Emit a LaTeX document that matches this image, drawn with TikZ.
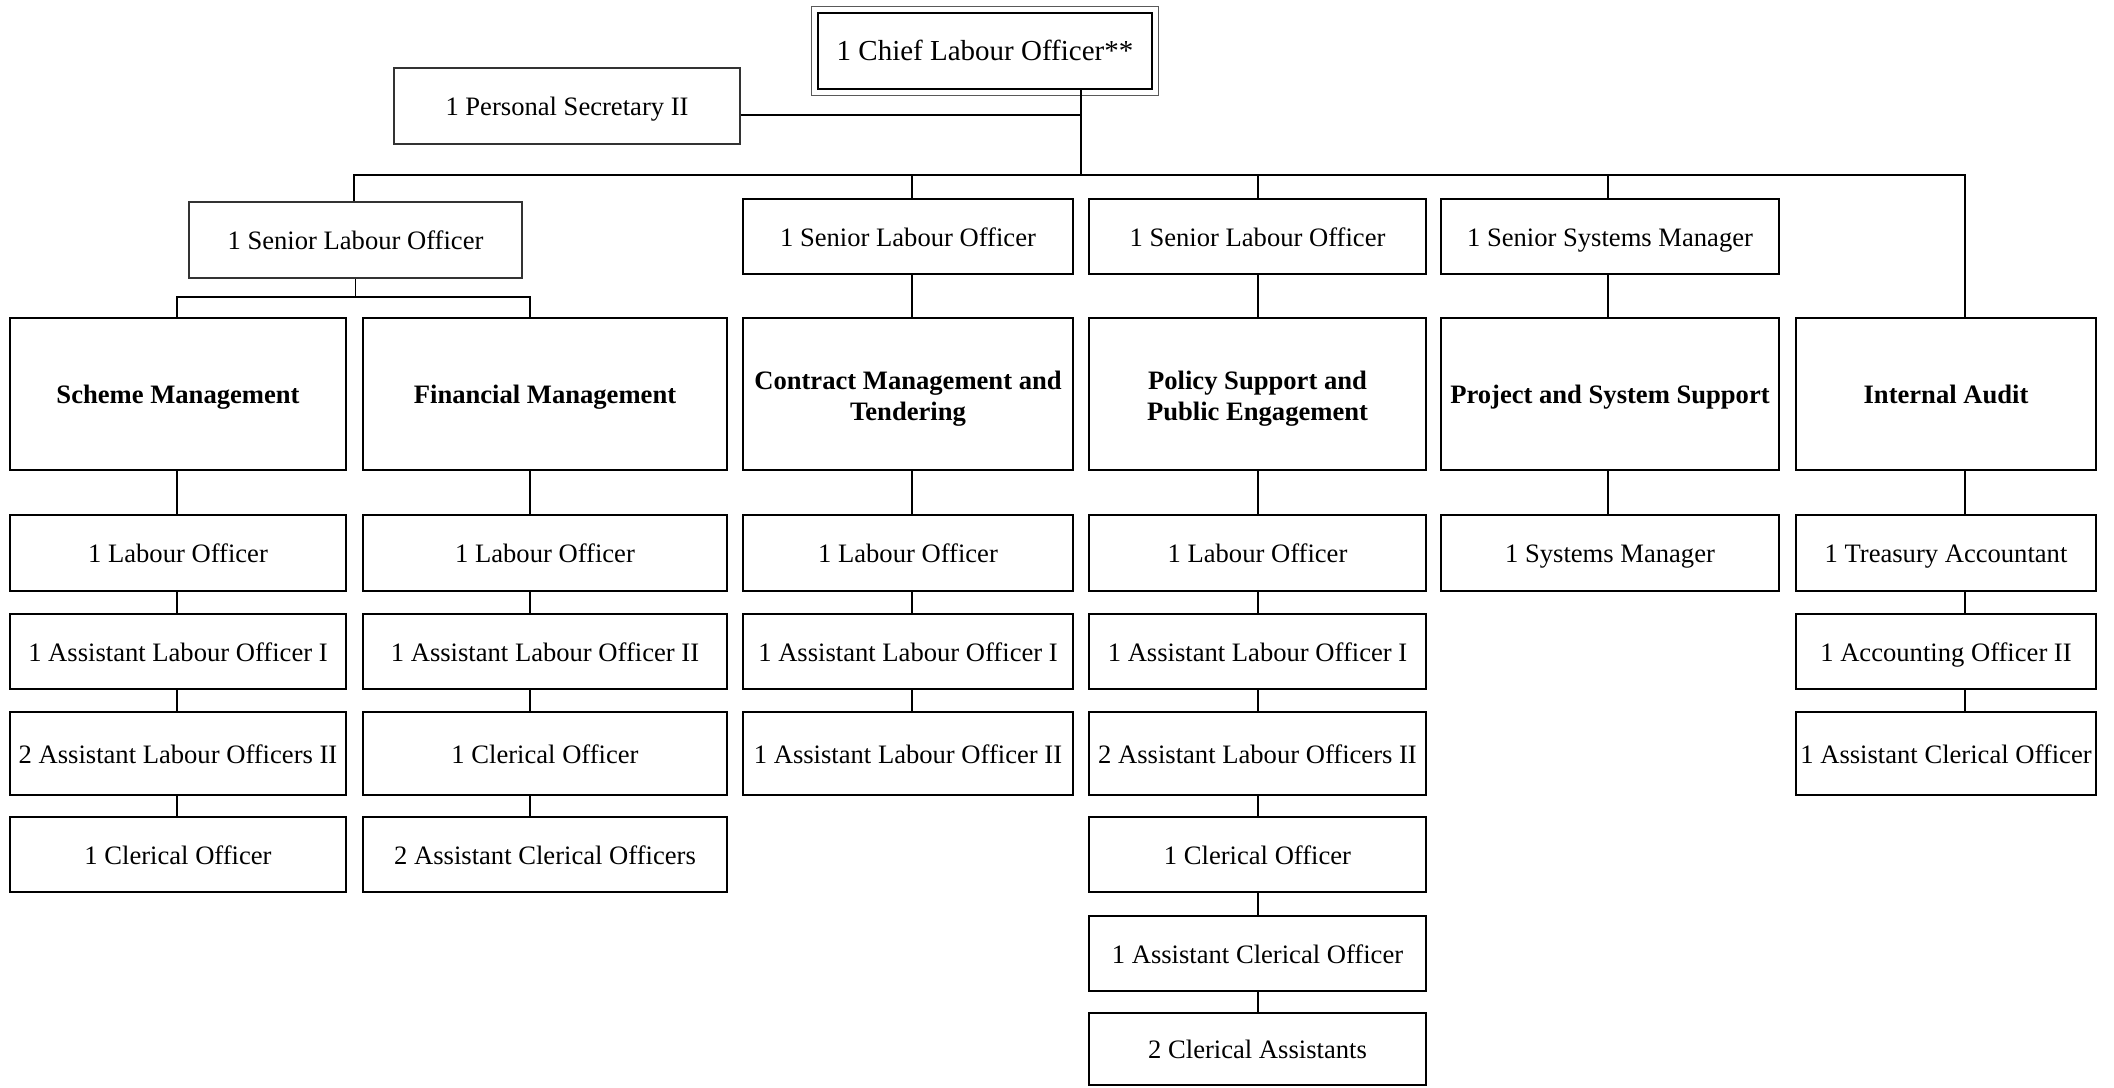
\documentclass[tikz,border=0pt]{standalone}
\usepackage{fontspec}
\setmainfont{Liberation Serif}
\usetikzlibrary{calc}
\begin{document}
\begin{tikzpicture}[x=1pt,y=-1pt,
  every node/.style={font=\fontsize{26.6}{31}\selectfont, inner sep=1pt},
  box/.style={draw=black, line width=2pt, rectangle, text height=22pt, text depth=3pt},
  thinbox/.style={draw=black!80, line width=1.3pt, rectangle, text height=22pt, text depth=3pt},
  dept/.style={draw=black, line width=2pt, rectangle, align=center, font=\fontsize{26.6}{31}\selectfont\bfseries},
  depttext/.style={align=center, font=\fontsize{26.6}{31}\selectfont\bfseries},
  conn/.style={draw=black, line width=1.5pt}]
\useasboundingbox (0,0) rectangle (2114,1087);
% helper macro: box from x1,x2,y1,y2
\newcommand{\bx}[7]{\node[#1, minimum width=#4-#3, minimum height=#6-#5] (#2) at ({(#3+#4)/2},{(#5+#6)/2}) {#7};}
% top
\bx{box, line width=1.5pt, font=\fontsize{29}{34}\selectfont}{chief}{818}{1152}{13}{89}{1 Chief Labour Officer**}
\draw[draw=black!65, line width=1.3pt] ($(chief.north west)+(-6,-6)$) rectangle ($(chief.south east)+(6,6)$);
\bx{thinbox}{ps}{394}{740}{68}{144}{1 Personal Secretary II}
\bx{thinbox}{sl1}{189}{522}{202}{278}{1 Senior Labour Officer}
\bx{box}{sl2}{743}{1073}{199}{274}{1 Senior Labour Officer}
\bx{box}{sl3}{1089}{1426}{199}{274}{1 Senior Labour Officer}
\bx{box}{ssm}{1441}{1779}{199}{274}{1 Senior Systems Manager}
% departments
\bx{dept, text height=22pt, text depth=3pt}{scheme}{10}{346}{318}{470}{Scheme Management}
\bx{dept, text height=22pt, text depth=3pt}{fin}{363}{727}{318}{470}{Financial Management}
\bx{dept}{contract}{743}{1073}{318}{470}{}
\node[depttext, yshift=-5pt] (contractt) at (contract.center) {Contract Management and\\Tendering};
\bx{dept}{policy}{1089}{1426}{318}{470}{}
\node[depttext, yshift=-5pt] (policyt) at (policy.center) {Policy Support and\\Public Engagement};
\bx{dept, text height=22pt, text depth=3pt}{project}{1441}{1779}{318}{470}{Project and System Support}
\bx{dept, text height=22pt, text depth=3pt}{audit}{1796}{2096}{318}{470}{Internal Audit}
% Scheme column
\bx{box}{s1}{10}{346}{515}{591}{1 Labour Officer}
\bx{box}{s2}{10}{346}{614}{689}{1 Assistant Labour Officer I}
\bx{box}{s3}{10}{346}{712}{795}{2 Assistant Labour Officers II}
\bx{box}{s4}{10}{346}{817}{892}{1 Clerical Officer}
% Financial column
\bx{box}{f1}{363}{727}{515}{591}{1 Labour Officer}
\bx{box}{f2}{363}{727}{614}{689}{1 Assistant Labour Officer II}
\bx{box}{f3}{363}{727}{712}{795}{1 Clerical Officer}
\bx{box}{f4}{363}{727}{817}{892}{2 Assistant Clerical Officers}
% Contract column
\bx{box}{c1}{743}{1073}{515}{591}{1 Labour Officer}
\bx{box}{c2}{743}{1073}{614}{689}{1 Assistant Labour Officer I}
\bx{box}{c3}{743}{1073}{712}{795}{1 Assistant Labour Officer II}
% Policy column
\bx{box}{p1}{1089}{1426}{515}{591}{1 Labour Officer}
\bx{box}{p2}{1089}{1426}{614}{689}{1 Assistant Labour Officer I}
\bx{box}{p3}{1089}{1426}{712}{795}{2 Assistant Labour Officers II}
\bx{box}{p4}{1089}{1426}{817}{892}{1 Clerical Officer}
\bx{box}{p5}{1089}{1426}{916}{991}{1 Assistant Clerical Officer}
\bx{box}{p6}{1089}{1426}{1013}{1085}{2 Clerical Assistants}
% Project column
\bx{box}{j1}{1441}{1779}{515}{591}{1 Systems Manager}
% Audit column
\bx{box}{a1}{1796}{2096}{515}{591}{1 Treasury Accountant}
\bx{box}{a2}{1796}{2096}{614}{689}{1 Accounting Officer II}
\bx{box}{a3}{1796}{2096}{712}{795}{1 Assistant Clerical Officer}
% connector coordinates
\coordinate (top) at (1081,175);
\coordinate (psj) at (1081,115);
\coordinate (busL) at (354,175);
\coordinate (busR) at (1965,175);
\coordinate (cS) at (177,297);
\coordinate (cF) at (530,297);
\coordinate (cC) at (912,175);
\coordinate (cP) at (1258,175);
\coordinate (cJ) at (1608,175);
\coordinate (cA) at (1965,175);
% top connectors
\draw[conn] (chief.south -| top) -- (top);
\draw[conn] (ps.east |- psj) -- (psj);
\draw[conn] (sl1.north -| busL) -- (busL) -- (busR) -- (audit.north -| busR);
\draw[conn] (cC) -- (sl2.north -| cC);
\draw[conn] (cP) -- (sl3.north -| cP);
\draw[conn] (cJ) -- (ssm.north -| cJ);
% senior officer 1 branch
\draw[conn] (sl1.south) -- (sl1.south |- cS);
\draw[conn] (scheme.north -| cS) -- (cS) -- (cF) -- (fin.north -| cF);
% senior to department
\draw[conn] (sl2.south -| cC) -- (contract.north -| cC);
\draw[conn] (sl3.south -| cP) -- (policy.north -| cP);
\draw[conn] (ssm.south -| cJ) -- (project.north -| cJ);
% Scheme chain
\draw[conn] (scheme.south -| cS) -- (s1.north -| cS);
\draw[conn] (s1.south -| cS) -- (s2.north -| cS);
\draw[conn] (s2.south -| cS) -- (s3.north -| cS);
\draw[conn] (s3.south -| cS) -- (s4.north -| cS);
% Financial chain
\draw[conn] (fin.south -| cF) -- (f1.north -| cF);
\draw[conn] (f1.south -| cF) -- (f2.north -| cF);
\draw[conn] (f2.south -| cF) -- (f3.north -| cF);
\draw[conn] (f3.south -| cF) -- (f4.north -| cF);
% Contract chain
\draw[conn] (contract.south -| cC) -- (c1.north -| cC);
\draw[conn] (c1.south -| cC) -- (c2.north -| cC);
\draw[conn] (c2.south -| cC) -- (c3.north -| cC);
% Policy chain
\draw[conn] (policy.south -| cP) -- (p1.north -| cP);
\draw[conn] (p1.south -| cP) -- (p2.north -| cP);
\draw[conn] (p2.south -| cP) -- (p3.north -| cP);
\draw[conn] (p3.south -| cP) -- (p4.north -| cP);
\draw[conn] (p4.south -| cP) -- (p5.north -| cP);
\draw[conn] (p5.south -| cP) -- (p6.north -| cP);
% Project chain
\draw[conn] (project.south -| cJ) -- (j1.north -| cJ);
% Audit chain
\draw[conn] (audit.south -| cA) -- (a1.north -| cA);
\draw[conn] (a1.south -| cA) -- (a2.north -| cA);
\draw[conn] (a2.south -| cA) -- (a3.north -| cA);
\end{tikzpicture}
\end{document}
